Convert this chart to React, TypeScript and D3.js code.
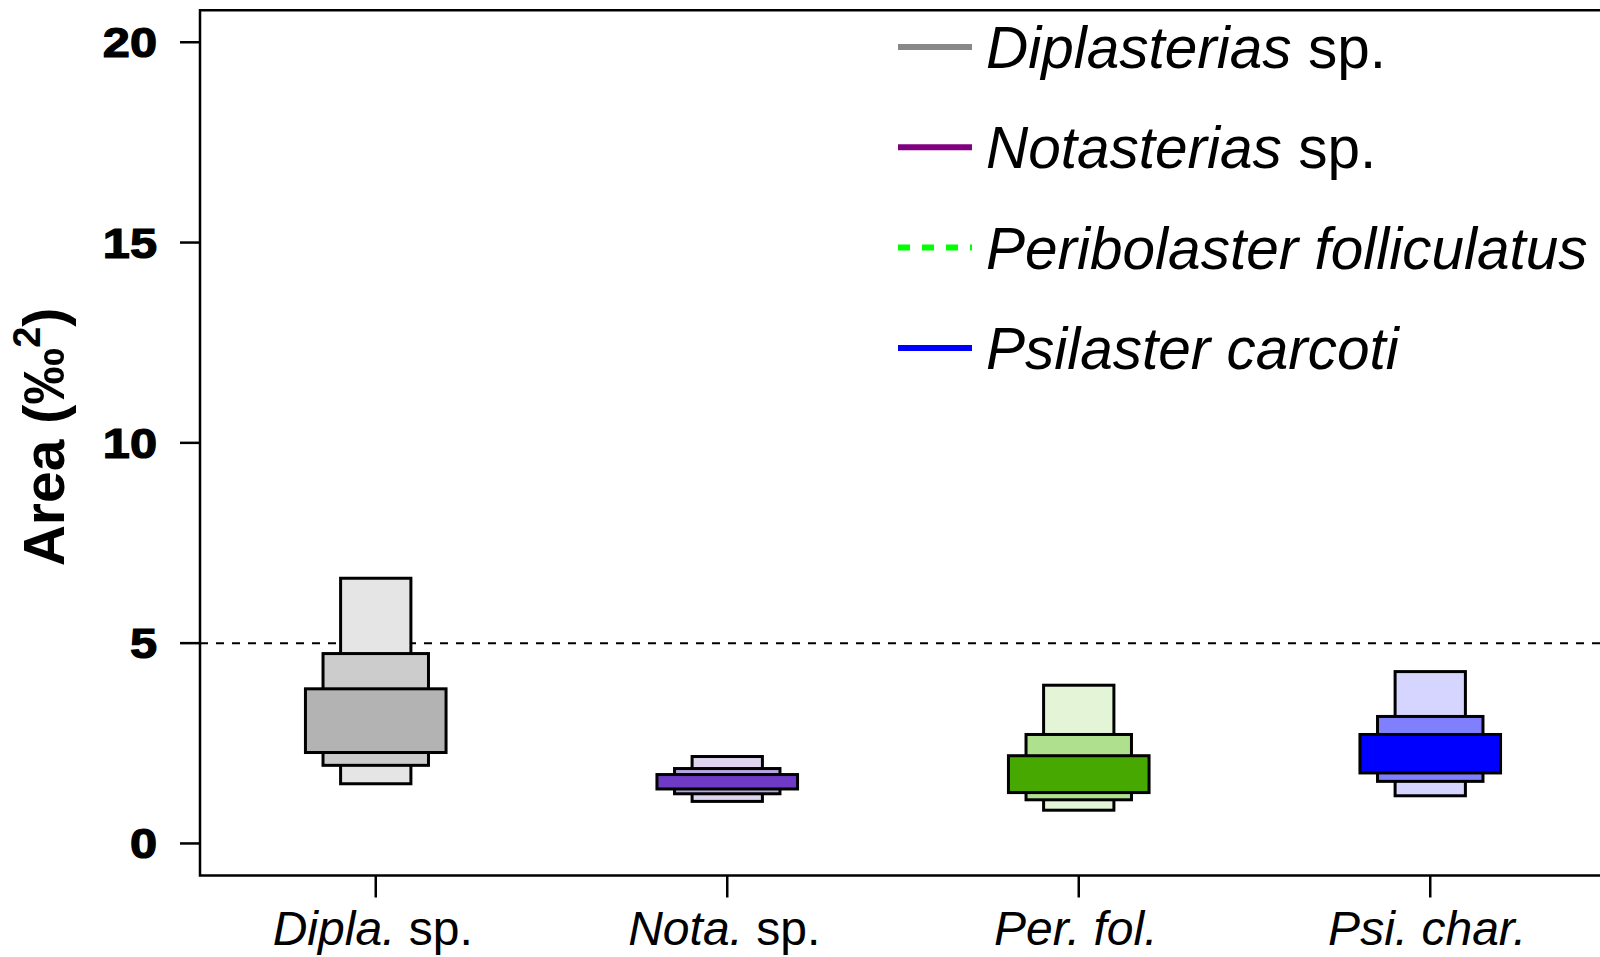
import React from "react";
import * as d3 from "d3";

const categories = ["Dipla", "Nota", "Per", "Psi"];
const xLabelItalic = ["Dipla.", "Nota.", "Per. fol.", "Psi. char."];
const xLabelPlain = [" sp.", " sp.", "", ""];
const yTicks = [0, 5, 10, 15, 20];

// letter-value boxes: outer (narrow), middle, inner (wide)
const outerLow = [1.49, 1.05, 0.83, 1.19];
const outerHigh = [6.62, 2.17, 3.95, 4.29];
const midLow = [1.95, 1.24, 1.09, 1.55];
const midHigh = [4.74, 1.87, 2.72, 3.17];
const innerLow = [2.27, 1.36, 1.27, 1.76];
const innerHigh = [3.86, 1.72, 2.19, 2.72];
const threshold = 5;

const outerColors = ["#e5e5e5", "#e0d5f0", "#e3f4d7", "#d5d5ff"];
const midColors = ["#cccccc", "#b9a3e3", "#aee08e", "#8080ff"];
const innerColors = ["#b3b3b3", "#6f3bc6", "#46a800", "#0000ff"];

const legendItalic = ["Diplasterias", "Notasterias", "Peribolaster folliculatus", "Psilaster carcoti"];
const legendPlain = [" sp.", " sp.", "", ""];
const legendColors = ["#888888", "#800080", "#00ff00", "#0000ff"];
const legendDashed = [false, false, true, false];

const W = 1600;
const H = 957;
const FONT = "'Liberation Sans', Arial, Helvetica, sans-serif";

export default function App() {
  const left = 200;
  const top = 10.2;
  const bottom = 875.5;
  const y = d3.scaleLinear().domain([-0.8, 20.8]).range([bottom, top]);
  const x = d3.scaleLinear().domain([0.5, 4.5]).range([left, 1606]);

  const levels = [
    { lo: outerLow, hi: outerHigh, w: 0.2, col: outerColors },
    { lo: midLow, hi: midHigh, w: 0.3, col: midColors },
    { lo: innerLow, hi: innerHigh, w: 0.4, col: innerColors },
  ];

  return (
    <svg width={W} height={H} style={{ position: "absolute", left: 0, top: 0, background: "#fff" }} fontFamily={FONT}>
      <rect x={0} y={0} width={W} height={H} fill="#fff" />
      {/* threshold line */}
      <line x1={left} x2={W} y1={y(threshold)} y2={y(threshold)} stroke="#000" strokeWidth={2} strokeDasharray="8,8" />
      {/* boxes */}
      {levels.map((lv, li) =>
        categories.map((c, i) => {
          const cx = x(i + 1);
          const hw = x(1 + lv.w / 2) - x(1);
          return (
            <rect
              key={c + li}
              x={cx - hw}
              y={y(lv.hi[i])}
              width={2 * hw}
              height={y(lv.lo[i]) - y(lv.hi[i])}
              fill={lv.col[i]}
              stroke="#000"
              strokeWidth={3}
            />
          );
        })
      )}
      {/* frame */}
      <path d={`M${W + 10},${top} H${left} V${bottom} H${W + 10}`} fill="none" stroke="#000" strokeWidth={2.5} />
      {/* y axis ticks */}
      {yTicks.map((t) => (
        <g key={t}>
          <line x1={left - 20} x2={left} y1={y(t)} y2={y(t)} stroke="#000" strokeWidth={2.5} />
          <text
            transform={`translate(157,${y(t) + 15}) scale(1.16,1)`}
            textAnchor="end"
            fontWeight="bold"
            fontSize={42}
            fill="#000"
            stroke="#000"
            strokeWidth={1.2}
          >
            {t}
          </text>
        </g>
      ))}
      {/* x axis ticks */}
      {categories.map((c, i) => (
        <g key={c}>
          <line x1={x(i + 1)} x2={x(i + 1)} y1={bottom} y2={bottom + 22} stroke="#000" strokeWidth={2.5} />
          <text x={x(i + 1) - 3} y={945} textAnchor="middle" fontSize={48} fill="#000">
            <tspan fontStyle="italic">{xLabelItalic[i]}</tspan>
            {xLabelPlain[i] && <tspan>{xLabelPlain[i]}</tspan>}
          </text>
        </g>
      ))}
      {/* y axis label */}
      <text transform={`translate(64,437) rotate(-90)`} textAnchor="middle" fontWeight="bold" fontSize={57} fill="#000">
        Area (‰<tspan fontSize={38} dy={-24}>2</tspan><tspan dy={24}>)</tspan>
      </text>
      {/* legend */}
      {legendItalic.map((lab, i) => {
        const ly = 47 + i * 100.3;
        return (
          <g key={lab}>
            <line
              x1={898}
              x2={972}
              y1={ly}
              y2={ly}
              stroke={legendColors[i]}
              strokeWidth={6}
              strokeDasharray={legendDashed[i] ? "12,12" : undefined}
            />
            <text x={986} y={ly + 21} fontSize={58.5} fill="#000">
              <tspan fontStyle="italic">{lab}</tspan>
              {legendPlain[i] && <tspan>{legendPlain[i]}</tspan>}
            </text>
          </g>
        );
      })}
    </svg>
  );
}
